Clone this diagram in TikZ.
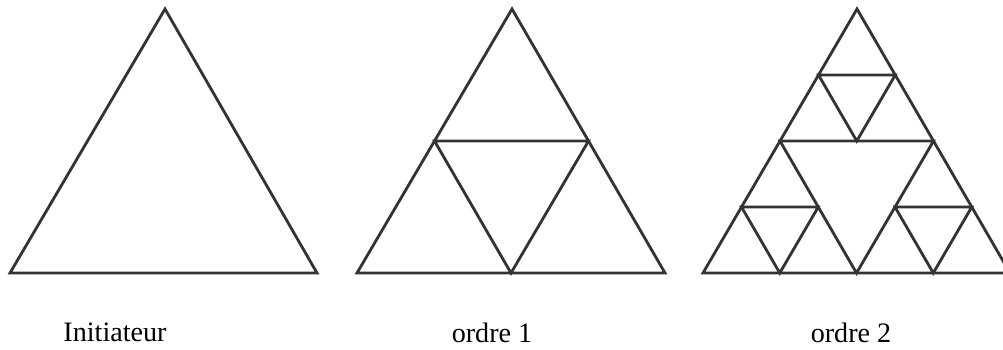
\documentclass[tikz,border=0pt]{standalone}
\usepackage{fontspec}
\setmainfont{Liberation Serif}
\usetikzlibrary{calc}
\tikzset{%
  trait/.style={line width=2pt, draw=black!80},
  legende/.style={font=\fontsize{20}{24}\selectfont, anchor=base, inner sep=0pt},
}
% triangle joining the midpoints of the sides
\newcommand{\milieux}[3]{%
  \draw[trait] ($(#1)!0.5!(#2)$) -- ($(#2)!0.5!(#3)$) -- ($(#3)!0.5!(#1)$) -- cycle;}

\begin{document}
\begin{tikzpicture}[x=0.025cm, y=-0.025cm]
\useasboundingbox (0,0) rectangle (1003,349);

% Initiator
\coordinate (A1) at (10,273);
\coordinate (B1) at (317,273);
\coordinate (C1) at (165,9);
\draw[trait] (A1) -- (B1) -- (C1) -- cycle;

% Order 1
\coordinate (A2) at (357,273);
\coordinate (B2) at (665,273);
\coordinate (C2) at (512,9);
\draw[trait] (A2) -- (B2) -- (C2) -- cycle;
\milieux{A2}{B2}{C2}

% Order 2
\coordinate (A3) at (703,273);
\coordinate (B3) at (1010,273);
\coordinate (C3) at (857,9);
\draw[trait] (A3) -- (B3) -- (C3) -- cycle;
\coordinate (Mab) at ($(A3)!0.5!(B3)$);
\coordinate (Mbc) at ($(B3)!0.5!(C3)$);
\coordinate (Mca) at ($(C3)!0.5!(A3)$);
\milieux{A3}{B3}{C3}
\milieux{A3}{Mab}{Mca}
\milieux{Mab}{B3}{Mbc}
\milieux{Mca}{Mbc}{C3}

% Captions
\node[legende] (init) at (115,341) {Initiateur};
\node[legende] (ord1) at (492,342) {ordre 1};
\node[legende] (ord2) at (851,342) {ordre 2};

\end{tikzpicture}
\end{document}
